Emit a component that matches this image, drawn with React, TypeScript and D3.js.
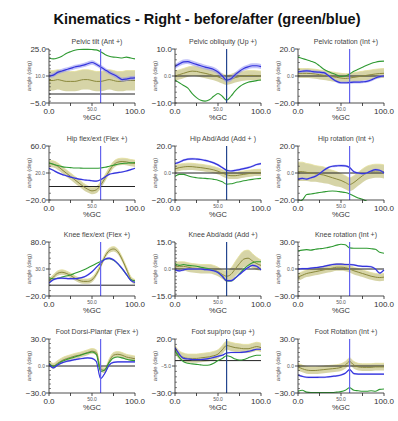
import React from 'react';
import * as d3 from 'd3';

// % gait cycle sample points
const gaitCycle = [0, 5, 10, 15, 20, 25, 30, 35, 40, 45, 50, 55, 60, 65, 70, 75, 80, 85, 90, 95, 100];
const toeOff = 60;

const panelTitles = [
  'Pelvic tilt (Ant +)', 'Pelvic obliquity (Up +)', 'Pelvic rotation (Int +)',
  'Hip flex/ext (Flex +)', 'Hip Abd/Add (Add + )', 'Hip rotation (Int +)',
  'Knee flex/ext (Flex +)', 'Knee Abd/add (Add +)', 'Knee rotation (Int +)',
  'Foot Dorsi-Plantar (Flex +)', 'Foot sup/pro (sup +)', 'Foot Rotation (Int +)',
];
const yMins = [-5, -10, -20, -20, -20, -20, -20, -15, -30, -30, -30, -30];
const yMaxs = [25, 10, 20, 60, 20, 20, 80, 15, 30, 30, 20, 30];
const blueSpread = [1.2, 0.9, 1.0, 1.2, 0.8, 0.8, 1.8, 0.6, 1.0, 1.0, 0.8, 1.0];

// normal band (mean, sd), before (green), after (blue)
const pelvicTiltNorm = [7.5, 7.5, 8, 7.5, 7, 7, 7, 7.5, 8, 8, 7.5, 7, 7, 7.5, 8, 7.5, 7, 7, 7.5, 7.5, 7.5];
const pelvicTiltSd = 5.5;
const pelvicTiltBefore = [20, 19.5, 20, 21, 22.5, 23.5, 24.3, 24.7, 24.8, 24.8, 24.7, 24.5, 23.5, 22, 21, 20.5, 20.3, 20, 20.5, 20, 19.5];
const pelvicTiltAfter = [10, 10.5, 12, 12.8, 13.5, 14.2, 15, 15.5, 16, 16.8, 17.5, 16.5, 15, 13.5, 12, 10.8, 9.5, 8, 8.3, 8.8, 9];

const pelvicObliquityNorm = [0, 0.5, 1, 1.5, 1.8, 1.7, 1.3, 1, 0.6, 0.2, -0.3, -1, -1.5, -1.2, -0.6, -0.2, 0, 0.2, 0.2, 0.1, 0];
const pelvicObliquitySd = 1.8;
const pelvicObliquityBefore = [-1.5, -2.5, -3.5, -4.5, -6.5, -8, -9, -9.3, -8.8, -7.5, -6.5, -7.5, -9, -7.5, -5.5, -4, -3, -2.3, -2, -1.7, -1.5];
const pelvicObliquityAfter = [3.5, 4.5, 5.2, 5.3, 4.8, 4.3, 3.8, 3.3, 2.9, 2.4, 1.5, 0, -1.5, -1, 0.5, 1.8, 2.8, 3.4, 3.8, 3.8, 3.5];

const pelvicRotationNorm = [2, 2, 2, 1.8, 1.5, 1, 0.5, 0, -0.5, -1, -1.5, -1.8, -1.5, -1, -0.5, 0, 0.5, 1, 1.5, 1.8, 2];
const pelvicRotationSd = 3.5;
const pelvicRotationBefore = [14, 13, 12, 11, 9.8, 7.5, 5, 3.3, 2, 0.8, -0.3, 0, 1.5, 3.5, 5, 6.5, 8, 9.3, 10.2, 10.8, 11];
const pelvicRotationAfter = [3, 3.5, 3.8, 3.5, 3, 2.8, 2.5, 0.5, -2, -4, -5, -5, -4.8, -4.5, -4.5, -4.3, -4, -3, -1.5, -0.5, 0];

const hipFlexNorm = [34, 33, 30, 25, 20, 15, 10, 5, 0, -4, -6.5, -5, 2, 12, 23, 32, 36, 37, 36.5, 35, 34];
const hipFlexSd = 5;
const hipFlexBefore = [35, 33, 31, 29.5, 28.5, 28, 27.5, 27.3, 27, 27, 27, 27, 27.5, 28.5, 30, 31.5, 33, 34, 34.5, 35, 35.5];
const hipFlexAfter = [27, 24, 20.5, 18, 16, 14, 12.5, 11, 10, 9.3, 8.5, 8, 10, 14, 18, 19.5, 20.5, 21.5, 23, 25, 27];

const hipAbdNorm = [3, 4, 4.5, 4.8, 4.7, 4.3, 4, 3.5, 3, 2.3, 1.3, 0, -1.3, -2, -2, -1.5, -1, -0.5, 0, 0.2, 0.3];
const hipAbdSd = 2.5;
const hipAbdBefore = [-2.5, -1, -1, -2, -3, -3.5, -3.8, -4, -4.3, -4.7, -5.3, -6.5, -8.3, -8, -7.2, -6.5, -5.8, -5.2, -4.7, -4.3, -4];
const hipAbdAfter = [7, 8, 9.5, 10.3, 10.5, 10.3, 10, 9.3, 8.5, 7.5, 6, 4, 2, 1.5, 2, 2.5, 3.2, 4, 5, 6.3, 7];

const hipRotationNorm = [1, 1, 0.5, 0, -0.5, -1, -1.5, -2.5, -3.5, -4.5, -5.5, -7, -8.5, -7, -4.5, -2, 0, 1, 1.5, 1.5, 1];
const hipRotationSd = [7, 7, 6.5, 6.5, 6, 6, 6, 5.5, 5.5, 5.5, 5, 5, 5, 5, 5, 5, 5, 5, 5, 5, 5];
const hipRotationBefore = [-21, -20, -16, -15.5, -15, -14.5, -14, -13.5, -13.3, -13.5, -14, -14.5, -15.5, -17, -18.5, -19.5, -21, -22, -22, -22, -22];
const hipRotationAfter = [-4.5, -4, -4.5, -3.5, -2.5, -0.5, 2, 4, 5, 5.3, 5.5, 5.3, 4, 1, 0, -0.5, 0, 1.5, 2.5, 2, 0];

const kneeFlexNorm = [7, 15, 22, 24, 22, 18, 13, 9, 7, 7, 10, 20, 35, 53, 64, 67, 62, 48, 30, 12, 6];
const kneeFlexSd = 4.5;
const kneeFlexBefore = [14, 12, 13, 15, 17, 19, 22, 25, 28, 32, 36, 40, 44, 48, 49, 46, 40, 30, 20, 10, 8];
const kneeFlexAfter = [4, 10, 12.5, 13, 12.5, 12, 12, 13, 15, 19, 25, 33, 41, 48, 50, 47, 40, 31, 20, 9, 5];

const kneeAbdNorm = [1, 1.5, 1.5, 1, 0.5, 0.3, 0, 0, 0, -0.5, -1.5, -3, -4, -3, 0, 3, 5.5, 6, 4.5, 3, 2];
const kneeAbdSd = [2.5, 2.5, 2.5, 2.5, 2.5, 2.5, 2.5, 2.5, 2.5, 2.5, 2.5, 2.5, 3, 3.5, 4, 4.5, 4.5, 4.5, 4, 3.5, 3];
const kneeAbdBefore = [3, 2, 2.5, 2, 1.8, 1.5, 1, 0.5, 0, -0.8, -2, -4, -6.5, -6.8, -5, -2.5, 0, 2, 3.5, 4, 4];
const kneeAbdAfter = [-0.5, -1, -0.5, 0, 0, 0, 0, -0.3, -0.5, -1, -2, -4, -6.5, -6.5, -5, -3, -1, 0.8, 2, 1.5, -0.5];

const kneeRotationNorm = [-9, -7, -5, -4, -3, -2, -1, 0, 1, 2, 2, 1.5, 0, -2, -3.5, -5, -6.5, -8, -9, -9.5, -9];
const kneeRotationSd = 4;
const kneeRotationBefore = [20, 21, 21.5, 21, 22, 22.5, 23, 24, 25, 26.5, 27.5, 27, 23.5, 23, 23, 23, 23, 22.5, 22, 18.5, 17.5];
const kneeRotationAfter = [0, 0.5, 0.5, 1, 1.5, 2, 3, 4, 5, 5.5, 5.5, 5, 5, 4.5, 3.5, 3, 3, 2.5, 0, -4.5, -1];

const footDorsiNorm = [3, 0, 3, 6, 8, 9.5, 11, 12, 13.5, 15, 16.5, 15, -3, -5, 5, 12, 13, 12, 10, 9, 8];
const footDorsiSd = 3;
const footDorsiBefore = [3, -0.5, 2, 5, 7, 8.5, 10, 11.5, 13, 14.5, 15.5, 13, -6, -4, 4, 9, 10, 9, 7.5, 6.5, 6];
const footDorsiAfter = [2, -2, 1, 3.5, 5, 6, 7, 8, 8.5, 9, 8.5, 5, -14, -8, 1, 4, 4.5, 4.5, 4.5, 4.5, 4.5];

const footSupProNorm = [10, 5, 3, 2, 2, 2, 2.5, 3, 3.5, 4.5, 6, 10, 14, 13, 12, 11.5, 11, 11, 12, 13, 12];
const footSupProSd = 4;
const footSupProBefore = [9, 3, -1, -2.5, -3, -3.5, -4, -4.3, -4, -2.5, 0, 2, 4.5, 3.5, 1.5, 0.5, 1, 2.5, 4, 5, 5];
const footSupProAfter = [12, 6, 2, 1.5, 1, 1, 1, 1.3, 2, 3, 4, 5, 7, 7.5, 7.5, 7.5, 7.8, 8.5, 9.5, 10.5, 10.5];

const footRotationNorm = [-1, -3, -4.5, -5, -5, -4.5, -4, -3.5, -3, -2.5, -1.5, 1, 5, 1, -1, -1.5, -1.5, -1.5, -1, -1, -1];
const footRotationSd = 4;
const footRotationBefore = [-28, -27, -29, -29.5, -29.5, -29.5, -29.5, -29.5, -29.5, -29, -28.5, -27, -24, -27, -27.5, -28, -28, -27.5, -28, -26, -25.5];
const footRotationAfter = [-10, -11.5, -12.5, -12.7, -12.7, -12.5, -12.5, -12, -11.5, -11, -10, -8, -4, -8.5, -9, -9, -9, -9, -9, -9, -9];

type PanelData = {
  title: string; min: number; max: number; spread: number;
  norm: number[]; sd: number | number[]; before: number[]; after: number[];
};

const series: [number[], number | number[], number[], number[]][] = [
  [pelvicTiltNorm, pelvicTiltSd, pelvicTiltBefore, pelvicTiltAfter],
  [pelvicObliquityNorm, pelvicObliquitySd, pelvicObliquityBefore, pelvicObliquityAfter],
  [pelvicRotationNorm, pelvicRotationSd, pelvicRotationBefore, pelvicRotationAfter],
  [hipFlexNorm, hipFlexSd, hipFlexBefore, hipFlexAfter],
  [hipAbdNorm, hipAbdSd, hipAbdBefore, hipAbdAfter],
  [hipRotationNorm, hipRotationSd, hipRotationBefore, hipRotationAfter],
  [kneeFlexNorm, kneeFlexSd, kneeFlexBefore, kneeFlexAfter],
  [kneeAbdNorm, kneeAbdSd, kneeAbdBefore, kneeAbdAfter],
  [kneeRotationNorm, kneeRotationSd, kneeRotationBefore, kneeRotationAfter],
  [footDorsiNorm, footDorsiSd, footDorsiBefore, footDorsiAfter],
  [footSupProNorm, footSupProSd, footSupProBefore, footSupProAfter],
  [footRotationNorm, footRotationSd, footRotationBefore, footRotationAfter],
];

const panels: PanelData[] = series.map(([norm, sd, before, after], i) => ({
  title: panelTitles[i], min: yMins[i], max: yMaxs[i], spread: blueSpread[i],
  norm, sd, before, after,
}));

// layout
const COL_X = [49, 175, 298];
const ROW_Y = [49, 146, 242, 339];
const PW = 86;
const PH = 54;
const FONT = 'Liberation Sans, Arial, sans-serif';

const fmt = d3.format('.1f');

function Panel({ p, idx }: { p: PanelData; idx: number }) {
  const col = idx % 3;
  const row = Math.floor(idx / 3);
  const x0 = COL_X[col];
  const y0 = ROW_Y[row];
  const x = d3.scaleLinear().domain([0, 100]).range([0, PW]);
  const y = d3.scaleLinear().domain([p.min, p.max]).range([PH, 0]);
  const sdAt = (i: number) => (Array.isArray(p.sd) ? p.sd[i] : p.sd);
  const curve = d3.curveMonotoneX;

  const band = d3.area<number>()
    .x((_, i) => x(gaitCycle[i]))
    .y0((d, i) => y(d - sdAt(i)))
    .y1((d, i) => y(d + sdAt(i)))
    .curve(curve);
  const blueBand = d3.area<number>()
    .x((_, i) => x(gaitCycle[i]))
    .y0((d) => y(d - p.spread))
    .y1((d) => y(d + p.spread))
    .curve(curve);
  const line = d3.line<number>()
    .x((_, i) => x(gaitCycle[i]))
    .y((d) => y(d))
    .curve(curve);
  const upper = d3.line<number>()
    .x((_, i) => x(gaitCycle[i]))
    .y((d, i) => y(d + sdAt(i)))
    .curve(curve);

  const mid = (p.min + p.max) / 2;
  const minorTicks = y.ticks(10);
  const xTicks = [0, 25, 50, 75, 100];
  const clipId = `clip-${idx}`;
  const vColor = col === 1 ? '#24468f' : '#6464ee';

  return (
    <g transform={`translate(${x0},${y0})`}>
      <defs>
        <clipPath id={clipId}>
          <rect x={0} y={-1} width={PW + 1} height={PH + 2} />
        </clipPath>
      </defs>
      <text x={PW / 2 + 5} y={-5} textAnchor="middle" fontSize={7} fill="#444">{p.title}</text>
      <g clipPath={`url(#${clipId})`}>
        <path d={band(p.norm) || ''} fill="#cfcc98" opacity={0.85} />
        <path d={upper(p.norm) || ''} fill="none" stroke="#e4e09a" strokeWidth={0.8} />
        <line x1={0} x2={PW} y1={y(0)} y2={y(0)} stroke="#222" strokeWidth={1} />
        <path d={line(p.norm) || ''} fill="none" stroke="#8a883c" strokeWidth={1} />
        <path d={line(p.before) || ''} fill="none" stroke="#2f9a32" strokeWidth={1.1} />
        <path d={blueBand(p.after) || ''} fill="#8f8ff2" opacity={0.55} />
        <path d={line(p.after) || ''} fill="none" stroke="#3434dc" strokeWidth={1.2} />
      </g>
      <line x1={x(toeOff)} x2={x(toeOff)} y1={0} y2={PH} stroke={vColor} strokeWidth={1.2} />
      {/* y axis */}
      <line x1={0} x2={0} y1={0} y2={PH} stroke="#222" strokeWidth={0.8} />
      {minorTicks.map((t) => (
        <line key={t} x1={0} x2={2} y1={y(t)} y2={y(t)} stroke="#333" strokeWidth={0.6} />
      ))}
      {[p.max, mid, p.min].map((t) => (
        <line key={`m${t}`} x1={-3} x2={0} y1={y(t)} y2={y(t)} stroke="#222" strokeWidth={0.8} />
      ))}
      <text x={-3} y={y(p.max)} dy="0.35em" textAnchor="end" fontSize={8} fill="#333">{fmt(p.max)}</text>
      <text x={-4} y={y(mid)} dy="0.35em" textAnchor="end" fontSize={5} fill="#555">{fmt(mid)}</text>
      <text x={-3} y={y(p.min)} dy="0.35em" textAnchor="end" fontSize={8} fill="#333">{fmt(p.min)}</text>
      <text transform={`translate(-18,${PH / 2}) rotate(-90)`} textAnchor="middle" fontSize={6} fill="#555">angle (deg)</text>
      {/* x axis */}
      <line x1={0} x2={PW} y1={PH} y2={PH} stroke="#222" strokeWidth={0.8} />
      {xTicks.map((t) => (
        <line key={t} x1={x(t)} x2={x(t)} y1={PH} y2={PH + 3} stroke="#222" strokeWidth={0.8} />
      ))}
      <text x={x(0)} y={PH + 11} textAnchor="middle" fontSize={8} fill="#333">{fmt(0)}</text>
      <text x={x(50)} y={PH + 7.5} textAnchor="middle" fontSize={5} fill="#555">{fmt(50)}</text>
      <text x={x(100)} y={PH + 11} textAnchor="middle" fontSize={8} fill="#333">{fmt(100)}</text>
      <text x={x(50)} y={PH + 17} textAnchor="middle" fontSize={7.5} fill="#333">%GC</text>
    </g>
  );
}

export default function App() {
  return (
    <svg width={398} height={421} style={{ position: 'absolute', left: 0, top: 0, background: '#fff' }} fontFamily={FONT}>
      <rect width={398} height={421} fill="#fff" />
      <text x={207} y={24} textAnchor="middle" fontSize={14.5} fontWeight="bold" fill="#111">
        Kinematics - Right - before/after (green/blue)
      </text>
      {panels.map((p, i) => <Panel key={i} p={p} idx={i} />)}
    </svg>
  );
}
